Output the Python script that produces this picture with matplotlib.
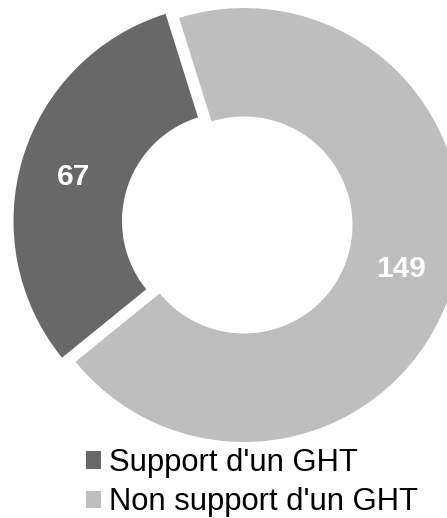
import matplotlib.pyplot as plt

plt.rcParams['font.family'] = ['Liberation Sans', 'DejaVu Sans']

labels = ["Support d'un GHT", "Non support d'un GHT"]
values = [67, 149]
colors = ['#686868', '#bebebe']

W, H = 447, 518
R = 217.0          # outer radius in pixels
cx, cy = 244, 225  # pie centre in pixels (from top-left)

fig = plt.figure(figsize=(W / 100, H / 100), dpi=100)
ax = fig.add_axes([0, 0, 1, 1])

wedges, _ = ax.pie(values, colors=colors, startangle=107.4, counterclock=True,
                   explode=[0.065, 0], radius=1.0,
                   wedgeprops=dict(width=0.5, linewidth=0))

ax.set_xlim(-cx / R, (W - cx) / R)
ax.set_ylim(-(H - cy) / R, cy / R)
ax.axis('off')

# value labels
def px(x, y):
    return ((x - cx) / R, (cy - y) / R)

ax.text(*px(74, 177), str(values[0]), color='white', fontsize=21.5,
        fontweight='bold', ha='center', va='center')
ax.text(*px(401, 269), str(values[1]), color='white', fontsize=21.5,
        fontweight='bold', ha='center', va='center')

fig.legend(wedges, labels, loc='upper left',
           bbox_to_anchor=(86 / W, 1 - 448 / H), frameon=False,
           fontsize=22.3, handlelength=0.48, handleheight=0.48,
           handletextpad=0.25, labelspacing=0.3,
           borderpad=0, borderaxespad=0)

fig.savefig('out.png', dpi=100)
